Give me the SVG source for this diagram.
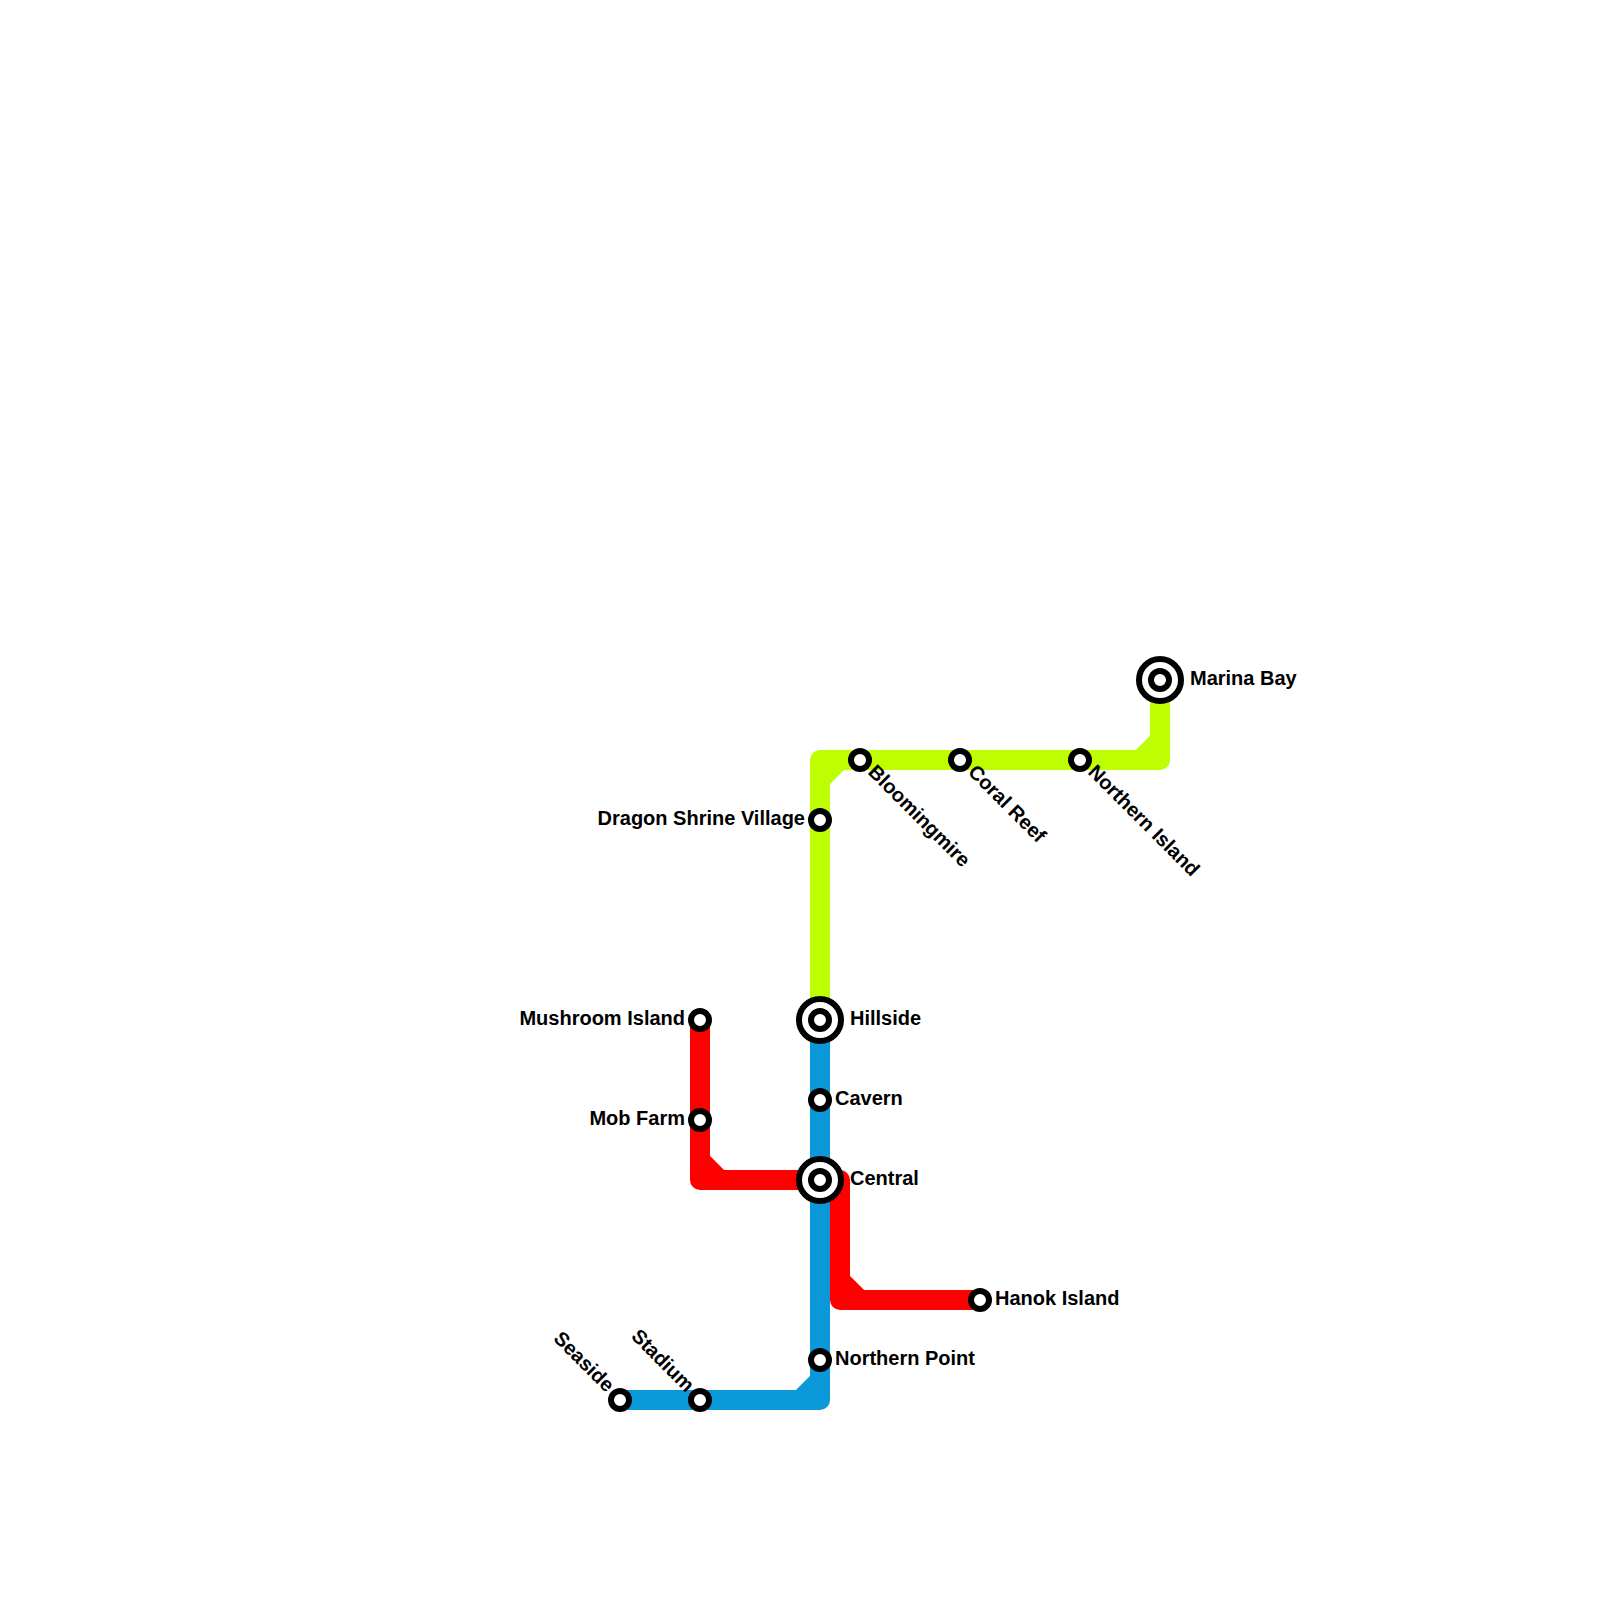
<svg xmlns="http://www.w3.org/2000/svg" width="1600" height="1600" viewBox="0 0 1600 1600">
<style>
.line{fill:none;stroke-width:20;stroke-linejoin:round}
.st{fill:#fff;stroke:#000;stroke-width:6}
text{font-family:"Liberation Sans",Arial,sans-serif;font-weight:bold;font-size:20px;fill:#000}
.e{text-anchor:end}
</style>
<rect width="1600" height="1600" fill="#fff"/>
<g id="connectors">
<path class="line" stroke="#bdff00" d="M820 1020V760H1160V680M820 780L840 760M1140 760L1160 740"/>
<path class="line" stroke="#0a98d8" d="M820 1020V1400H620M820 1380L800 1400"/>
<path class="line" stroke="#ff0000" d="M700 1020V1180H820M700 1160L720 1180M820 1180H840V1300H980M840 1280L860 1300"/>
</g>
<g id="marina-bay"><circle class="st" cx="1160" cy="680" r="21"/><circle class="st" cx="1160" cy="680" r="9"/><text x="1190" y="685">Marina Bay</text></g>
<g id="northern-island"><circle class="st" cx="1080" cy="760" r="9"/><text transform="translate(1087 773) rotate(45)">Northern Island</text></g>
<g id="coral-reef"><circle class="st" cx="960" cy="760" r="9"/><text transform="translate(967 773) rotate(45)">Coral Reef</text></g>
<g id="bloomingmire"><circle class="st" cx="860" cy="760" r="9"/><text transform="translate(867 773) rotate(45)">Bloomingmire</text></g>
<g id="dragon-shrine-village"><circle class="st" cx="820" cy="820" r="9"/><text class="e" x="805" y="825">Dragon Shrine Village</text></g>
<g id="hillside"><circle class="st" cx="820" cy="1020" r="21"/><circle class="st" cx="820" cy="1020" r="9"/><text x="850" y="1025">Hillside</text></g>
<g id="cavern"><circle class="st" cx="820" cy="1100" r="9"/><text x="835" y="1105">Cavern</text></g>
<g id="central"><circle class="st" cx="820" cy="1180" r="21"/><circle class="st" cx="820" cy="1180" r="9"/><text x="850" y="1185">Central</text></g>
<g id="mushroom-island"><circle class="st" cx="700" cy="1020" r="9"/><text class="e" x="685" y="1025">Mushroom Island</text></g>
<g id="mob-farm"><circle class="st" cx="700" cy="1120" r="9"/><text class="e" x="685" y="1125">Mob Farm</text></g>
<g id="hanok-island"><circle class="st" cx="980" cy="1300" r="9"/><text x="995" y="1305">Hanok Island</text></g>
<g id="northern-point"><circle class="st" cx="820" cy="1360" r="9"/><text x="835" y="1365">Northern Point</text></g>
<g id="stadium"><circle class="st" cx="700" cy="1400" r="9"/><text class="e" transform="translate(686 1393) rotate(45)">Stadium</text></g>
<g id="seaside"><circle class="st" cx="620" cy="1400" r="9"/><text class="e" transform="translate(606 1393) rotate(45)">Seaside</text></g>
</svg>
